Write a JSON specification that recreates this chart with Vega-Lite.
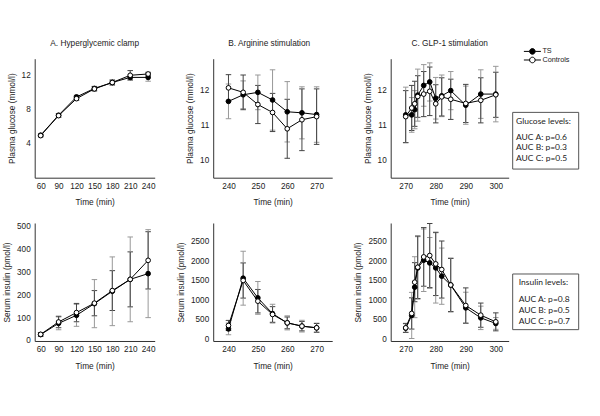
{
  "$schema": "https://vega.github.io/schema/vega-lite/v6.json",
  "padding": {"left": 1.7, "top": 38.7, "right": 5, "bottom": 5},
  "datasets": {
    "ag": [
      {"group": "TS", "time": 60, "mean": 5.0, "sd": 0.15},
      {"group": "TS", "time": 90, "mean": 7.35, "sd": 0.2},
      {"group": "TS", "time": 120, "mean": 9.5, "sd": 0.2},
      {"group": "TS", "time": 150, "mean": 10.5, "sd": 0.25},
      {"group": "TS", "time": 180, "mean": 11.2, "sd": 0.25},
      {"group": "TS", "time": 210, "mean": 11.8, "sd": 0.3},
      {"group": "TS", "time": 240, "mean": 11.8, "sd": 0.45},
      {"group": "Controls", "time": 60, "mean": 4.95, "sd": 0.15},
      {"group": "Controls", "time": 90, "mean": 7.3, "sd": 0.2},
      {"group": "Controls", "time": 120, "mean": 9.3, "sd": 0.2},
      {"group": "Controls", "time": 150, "mean": 10.45, "sd": 0.25},
      {"group": "Controls", "time": 180, "mean": 11.2, "sd": 0.3},
      {"group": "Controls", "time": 210, "mean": 12.05, "sd": 0.55},
      {"group": "Controls", "time": 240, "mean": 12.2, "sd": 0.2}
    ],
    "ai": [
      {"group": "TS", "time": 60, "mean": 28, "sd": 8},
      {"group": "TS", "time": 90, "mean": 77, "sd": 28},
      {"group": "TS", "time": 120, "mean": 112, "sd": 48},
      {"group": "TS", "time": 150, "mean": 163, "sd": 105},
      {"group": "TS", "time": 180, "mean": 217, "sd": 150},
      {"group": "TS", "time": 210, "mean": 269, "sd": 185},
      {"group": "TS", "time": 240, "mean": 294, "sd": 192},
      {"group": "Controls", "time": 60, "mean": 29, "sd": 8},
      {"group": "Controls", "time": 90, "mean": 83, "sd": 25},
      {"group": "Controls", "time": 120, "mean": 124, "sd": 40},
      {"group": "Controls", "time": 150, "mean": 165, "sd": 55},
      {"group": "Controls", "time": 180, "mean": 220, "sd": 87},
      {"group": "Controls", "time": 210, "mean": 269, "sd": 120},
      {"group": "Controls", "time": 240, "mean": 352, "sd": 125}
    ],
    "bg": [
      {"group": "TS", "time": 240, "mean": 11.69, "sd": 0.5},
      {"group": "TS", "time": 245, "mean": 11.88, "sd": 0.4},
      {"group": "TS", "time": 250, "mean": 11.95, "sd": 0.5},
      {"group": "TS", "time": 255, "mean": 11.73, "sd": 0.87},
      {"group": "TS", "time": 260, "mean": 11.39, "sd": 0.87},
      {"group": "TS", "time": 265, "mean": 11.36, "sd": 0.75},
      {"group": "TS", "time": 270, "mean": 11.31, "sd": 0.8},
      {"group": "Controls", "time": 240, "mean": 12.08, "sd": 0.38},
      {"group": "Controls", "time": 245, "mean": 11.95, "sd": 0.5},
      {"group": "Controls", "time": 250, "mean": 11.6, "sd": 0.55},
      {"group": "Controls", "time": 255, "mean": 11.37, "sd": 0.55},
      {"group": "Controls", "time": 260, "mean": 10.9, "sd": 0.85},
      {"group": "Controls", "time": 265, "mean": 11.16, "sd": 0.89},
      {"group": "Controls", "time": 270, "mean": 11.25, "sd": 0.8}
    ],
    "bi": [
      {"group": "TS", "time": 240, "mean": 270, "sd": 150},
      {"group": "TS", "time": 245, "mean": 1567, "sd": 690},
      {"group": "TS", "time": 250, "mean": 1063, "sd": 420},
      {"group": "TS", "time": 255, "mean": 660, "sd": 240},
      {"group": "TS", "time": 260, "mean": 424, "sd": 180},
      {"group": "TS", "time": 265, "mean": 340, "sd": 150},
      {"group": "TS", "time": 270, "mean": 297, "sd": 120},
      {"group": "Controls", "time": 240, "mean": 357, "sd": 130},
      {"group": "Controls", "time": 245, "mean": 1508, "sd": 450},
      {"group": "Controls", "time": 250, "mean": 979, "sd": 300},
      {"group": "Controls", "time": 255, "mean": 639, "sd": 200},
      {"group": "Controls", "time": 260, "mean": 424, "sd": 150},
      {"group": "Controls", "time": 265, "mean": 340, "sd": 120},
      {"group": "Controls", "time": 270, "mean": 297, "sd": 110}
    ],
    "cg": [
      {"group": "TS", "time": 270, "mean": 11.3, "sd": 0.8},
      {"group": "TS", "time": 272, "mean": 11.3, "sd": 0.5},
      {"group": "TS", "time": 273, "mean": 11.45, "sd": 0.55},
      {"group": "TS", "time": 274, "mean": 11.87, "sd": 0.75},
      {"group": "TS", "time": 276, "mean": 12.15, "sd": 0.6},
      {"group": "TS", "time": 278, "mean": 12.25, "sd": 0.55},
      {"group": "TS", "time": 280, "mean": 11.78, "sd": 0.6},
      {"group": "TS", "time": 282, "mean": 11.85, "sd": 0.6},
      {"group": "TS", "time": 285, "mean": 12.0, "sd": 0.55},
      {"group": "TS", "time": 290, "mean": 11.58, "sd": 0.55},
      {"group": "TS", "time": 295, "mean": 11.9, "sd": 0.7},
      {"group": "TS", "time": 300, "mean": 11.9, "sd": 0.8},
      {"group": "Controls", "time": 270, "mean": 11.25, "sd": 0.75},
      {"group": "Controls", "time": 272, "mean": 11.5, "sd": 0.65},
      {"group": "Controls", "time": 273, "mean": 11.62, "sd": 0.65},
      {"group": "Controls", "time": 274, "mean": 11.83, "sd": 0.6},
      {"group": "Controls", "time": 276, "mean": 11.9, "sd": 0.65},
      {"group": "Controls", "time": 278, "mean": 11.98, "sd": 0.7},
      {"group": "Controls", "time": 280, "mean": 11.62, "sd": 0.55},
      {"group": "Controls", "time": 282, "mean": 11.82, "sd": 0.55},
      {"group": "Controls", "time": 285, "mean": 11.75, "sd": 0.58},
      {"group": "Controls", "time": 290, "mean": 11.63, "sd": 0.55},
      {"group": "Controls", "time": 295, "mean": 11.72, "sd": 0.65},
      {"group": "Controls", "time": 300, "mean": 11.88, "sd": 0.65}
    ],
    "ci": [
      {"group": "TS", "time": 270, "mean": 290, "sd": 110},
      {"group": "TS", "time": 272, "mean": 614, "sd": 590},
      {"group": "TS", "time": 273, "mean": 1337, "sd": 780},
      {"group": "TS", "time": 274, "mean": 1830, "sd": 800},
      {"group": "TS", "time": 276, "mean": 2027, "sd": 800},
      {"group": "TS", "time": 278, "mean": 1958, "sd": 650},
      {"group": "TS", "time": 280, "mean": 1831, "sd": 900},
      {"group": "TS", "time": 282, "mean": 1619, "sd": 720},
      {"group": "TS", "time": 285, "mean": 1393, "sd": 690},
      {"group": "TS", "time": 290, "mean": 808, "sd": 400},
      {"group": "TS", "time": 295, "mean": 552, "sd": 300},
      {"group": "TS", "time": 300, "mean": 409, "sd": 150},
      {"group": "Controls", "time": 270, "mean": 296, "sd": 115},
      {"group": "Controls", "time": 272, "mean": 665, "sd": 400},
      {"group": "Controls", "time": 273, "mean": 1465, "sd": 500},
      {"group": "Controls", "time": 274, "mean": 1848, "sd": 800},
      {"group": "Controls", "time": 276, "mean": 2112, "sd": 750},
      {"group": "Controls", "time": 278, "mean": 2147, "sd": 820},
      {"group": "Controls", "time": 280, "mean": 1933, "sd": 810},
      {"group": "Controls", "time": 282, "mean": 1789, "sd": 730},
      {"group": "Controls", "time": 285, "mean": 1393, "sd": 680},
      {"group": "Controls", "time": 290, "mean": 869, "sd": 450},
      {"group": "Controls", "time": 295, "mean": 621, "sd": 310},
      {"group": "Controls", "time": 300, "mean": 450, "sd": 230}
    ],
    "leg": [
      {"group": "TS"},
      {"group": "Controls"}
    ],
    "gbox": [
      {"line": 0, "text": "Glucose levels:"},
      {"line": 1, "text": "AUC A: p=0.6"},
      {"line": 2, "text": "AUC B: p=0.3"},
      {"line": 3, "text": "AUC C: p=0.5"}
    ],
    "ibox": [
      {"line": 0, "text": "Insulin levels:"},
      {"line": 1, "text": "AUC A: p=0.8"},
      {"line": 2, "text": "AUC B: p=0.5"},
      {"line": 3, "text": "AUC C: p=0.7"}
    ]
  },
  "hconcat": [
    {
      "columns": 3,
      "spacing": {"row": 45.3, "column": 58.5},
      "bounds": "flush",
      "concat": [
        {
          "width": 120, "height": 119,
          "title": {"text": "A. Hyperglycemic clamp"},
          "data": {"name": "ag"},
          "encoding": {
            "x": {"field": "time", "type": "quantitative", "scale": {"domain": [50, 251], "nice": false, "zero": false}, "axis": {"values": [60, 90, 120, 150, 180, 210, 240], "title": "Time (min)"}},
            "y": {"field": "mean", "type": "quantitative", "scale": {"domain": [0, 14], "nice": false, "zero": false}, "axis": {"values": [4, 8, 12], "title": "Plasma glucose (mmol/l)"}}
          },
          "layer": [
            {"mark": {"type": "errorbar", "ticks": {"size": 5.5, "opacity": 1}, "thickness": 1}, "encoding": {"yError": {"field": "sd"}, "color": {"field": "group", "type": "nominal", "scale": {"domain": ["TS", "Controls"], "range": ["#999999", "#444444"]}, "legend": null}}},
            {"mark": {"type": "line", "color": "black", "strokeWidth": 1}, "encoding": {"detail": {"field": "group"}}},
            {"mark": {"type": "circle", "stroke": "black", "strokeWidth": 1, "size": 22, "opacity": 1}, "encoding": {"fill": {"field": "group", "type": "nominal", "scale": {"domain": ["TS", "Controls"], "range": ["black", "white"]}, "legend": null}}}
          ]
        },
        {
          "width": 119, "height": 119,
          "title": {"text": "B. Arginine stimulation", "dx": -3.5},
          "data": {"name": "bg"},
          "encoding": {
            "x": {"field": "time", "type": "quantitative", "scale": {"domain": [234.8, 275.3], "nice": false, "zero": false}, "axis": {"values": [240, 250, 260, 270], "title": "Time (min)"}},
            "y": {"field": "mean", "type": "quantitative", "scale": {"domain": [9.49, 12.92], "nice": false, "zero": false}, "axis": {"values": [10, 11, 12], "title": "Plasma glucose (mmol/l)"}}
          },
          "layer": [
            {"mark": {"type": "errorbar", "ticks": {"size": 5.5, "opacity": 1}, "thickness": 1}, "encoding": {"yError": {"field": "sd"}, "color": {"field": "group", "type": "nominal", "scale": {"domain": ["TS", "Controls"], "range": ["#999999", "#444444"]}, "legend": null}}},
            {"mark": {"type": "line", "color": "black", "strokeWidth": 1}, "encoding": {"detail": {"field": "group"}}},
            {"mark": {"type": "circle", "stroke": "black", "strokeWidth": 1, "size": 22, "opacity": 1}, "encoding": {"fill": {"field": "group", "type": "nominal", "scale": {"domain": ["TS", "Controls"], "range": ["black", "white"]}, "legend": null}}}
          ]
        },
        {
          "width": 118, "height": 119,
          "title": {"text": "C. GLP-1 stimulation"},
          "data": {"name": "cg"},
          "encoding": {
            "x": {"field": "time", "type": "quantitative", "scale": {"domain": [265, 304.3], "nice": false, "zero": false}, "axis": {"values": [270, 280, 290, 300], "title": "Time (min)"}},
            "y": {"field": "mean", "type": "quantitative", "scale": {"domain": [9.49, 12.92], "nice": false, "zero": false}, "axis": {"values": [10, 11, 12], "title": "Plasma glucose (mmol/l)"}}
          },
          "layer": [
            {"mark": {"type": "errorbar", "ticks": {"size": 5.5, "opacity": 1}, "thickness": 1}, "encoding": {"yError": {"field": "sd"}, "color": {"field": "group", "type": "nominal", "scale": {"domain": ["TS", "Controls"], "range": ["#999999", "#444444"]}, "legend": null}}},
            {"mark": {"type": "line", "color": "black", "strokeWidth": 1}, "encoding": {"detail": {"field": "group"}}},
            {"mark": {"type": "circle", "stroke": "black", "strokeWidth": 1, "size": 22, "opacity": 1}, "encoding": {"fill": {"field": "group", "type": "nominal", "scale": {"domain": ["TS", "Controls"], "range": ["black", "white"]}, "legend": null}}}
          ]
        },
        {
          "width": 120, "height": 118,
          "data": {"name": "ai"},
          "encoding": {
            "x": {"field": "time", "type": "quantitative", "scale": {"domain": [50, 251], "nice": false, "zero": false}, "axis": {"values": [60, 90, 120, 150, 180, 210, 240], "title": "Time (min)"}},
            "y": {"field": "mean", "type": "quantitative", "scale": {"domain": [0, 515], "nice": false, "zero": false}, "axis": {"values": [0, 100, 200, 300, 400, 500], "format": "d", "title": "Serum insulin (pmol/l)"}}
          },
          "layer": [
            {"mark": {"type": "errorbar", "ticks": {"size": 5.5, "opacity": 1}, "thickness": 1}, "encoding": {"yError": {"field": "sd"}, "color": {"field": "group", "type": "nominal", "scale": {"domain": ["TS", "Controls"], "range": ["#999999", "#444444"]}, "legend": null}}},
            {"mark": {"type": "line", "color": "black", "strokeWidth": 1}, "encoding": {"detail": {"field": "group"}}},
            {"mark": {"type": "circle", "stroke": "black", "strokeWidth": 1, "size": 22, "opacity": 1}, "encoding": {"fill": {"field": "group", "type": "nominal", "scale": {"domain": ["TS", "Controls"], "range": ["black", "white"]}, "legend": null}}}
          ]
        },
        {
          "width": 119, "height": 118,
          "data": {"name": "bi"},
          "encoding": {
            "x": {"field": "time", "type": "quantitative", "scale": {"domain": [234.8, 275.3], "nice": false, "zero": false}, "axis": {"values": [240, 250, 260, 270], "title": "Time (min)"}},
            "y": {"field": "mean", "type": "quantitative", "scale": {"domain": [-40, 2980], "nice": false, "zero": false}, "axis": {"values": [0, 500, 1000, 1500, 2000, 2500], "format": "d", "title": "Serum insulin (pmol/l)"}}
          },
          "layer": [
            {"mark": {"type": "errorbar", "ticks": {"size": 5.5, "opacity": 1}, "thickness": 1}, "encoding": {"yError": {"field": "sd"}, "color": {"field": "group", "type": "nominal", "scale": {"domain": ["TS", "Controls"], "range": ["#999999", "#444444"]}, "legend": null}}},
            {"mark": {"type": "line", "color": "black", "strokeWidth": 1}, "encoding": {"detail": {"field": "group"}}},
            {"mark": {"type": "circle", "stroke": "black", "strokeWidth": 1, "size": 22, "opacity": 1}, "encoding": {"fill": {"field": "group", "type": "nominal", "scale": {"domain": ["TS", "Controls"], "range": ["black", "white"]}, "legend": null}}}
          ]
        },
        {
          "width": 118, "height": 118,
          "data": {"name": "ci"},
          "encoding": {
            "x": {"field": "time", "type": "quantitative", "scale": {"domain": [265, 304.3], "nice": false, "zero": false}, "axis": {"values": [270, 280, 290, 300], "title": "Time (min)"}},
            "y": {"field": "mean", "type": "quantitative", "scale": {"domain": [-40, 2980], "nice": false, "zero": false}, "axis": {"values": [0, 500, 1000, 1500, 2000, 2500], "format": "d", "title": "Serum insulin (pmol/l)"}}
          },
          "layer": [
            {"mark": {"type": "errorbar", "ticks": {"size": 5.5, "opacity": 1}, "thickness": 1}, "encoding": {"yError": {"field": "sd"}, "color": {"field": "group", "type": "nominal", "scale": {"domain": ["TS", "Controls"], "range": ["#999999", "#444444"]}, "legend": null}}},
            {"mark": {"type": "line", "color": "black", "strokeWidth": 1}, "encoding": {"detail": {"field": "group"}}},
            {"mark": {"type": "circle", "stroke": "black", "strokeWidth": 1, "size": 22, "opacity": 1}, "encoding": {"fill": {"field": "group", "type": "nominal", "scale": {"domain": ["TS", "Controls"], "range": ["black", "white"]}, "legend": null}}}
          ]
        }
      ]
    },
    {
      "vconcat": [
        {
          "width": 66, "height": 119,
          "data": {"name": "gbox"},
          "layer": [
            {"data": {"values": [{"box": "glucose"}]}, "mark": {"type": "rect", "fill": "transparent", "stroke": "#555555", "strokeWidth": 1}, "encoding": {"x": {"datum": 0, "type": "quantitative", "scale": {"domain": [0, 1], "nice": false, "zero": false}, "axis": null}, "x2": {"datum": 1}, "y": {"datum": -1.28, "type": "quantitative", "scale": {"domain": [-6.32, 4.85], "reverse": true, "nice": false, "zero": false}, "axis": null}, "y2": {"datum": 4.04}}},
            {"transform": [{"filter": "datum.line == 0"}], "mark": {"type": "text", "align": "left", "baseline": "middle", "dx": 3.3, "dy": -4.65, "font": "Lato", "fontSize": 8.5, "color": "#222222"}, "encoding": {"x": {"datum": 0, "type": "quantitative"}, "y": {"field": "line", "type": "quantitative"}, "text": {"field": "text"}}},
            {"transform": [{"filter": "datum.line > 0"}], "mark": {"type": "text", "align": "left", "baseline": "middle", "dx": 3.3, "font": "Lato", "fontSize": 8.5, "color": "#222222"}, "encoding": {"x": {"datum": 0, "type": "quantitative"}, "y": {"field": "line", "type": "quantitative"}, "text": {"field": "text"}}},
            {"data": {"name": "leg"}, "transform": [{"filter": "datum.group == 'TS'"}], "mark": {"type": "point", "shape": "M-2.43,0L-0.8,0M0.8,0L2.43,0M0.8,0A0.8,0.8,0,1,1,-0.8,0A0.8,0.8,0,1,1,0.8,0Z", "size": 49, "filled": true, "fill": "black", "stroke": "black", "strokeWidth": 1, "opacity": 1}, "encoding": {"x": {"datum": 0.2985, "type": "quantitative"}, "y": {"datum": -7.005, "type": "quantitative"}}},
            {"data": {"name": "leg"}, "transform": [{"filter": "datum.group == 'Controls'"}], "mark": {"type": "point", "shape": "M-2.43,0L-0.8,0M0.8,0L2.43,0M0.8,0A0.8,0.8,0,1,1,-0.8,0A0.8,0.8,0,1,1,0.8,0Z", "size": 49, "filled": true, "fill": "white", "stroke": "black", "strokeWidth": 1, "opacity": 1}, "encoding": {"x": {"datum": 0.2985, "type": "quantitative"}, "y": {"datum": -6.198, "type": "quantitative"}}},
            {"data": {"name": "leg"}, "transform": [{"filter": "datum.group == 'TS'"}], "mark": {"type": "text", "align": "left", "baseline": "middle", "dx": 10, "font": "Liberation Sans", "fontSize": 7.3, "color": "#222222"}, "encoding": {"x": {"datum": 0.2985, "type": "quantitative"}, "y": {"datum": -7.005, "type": "quantitative"}, "text": {"field": "group"}}},
            {"data": {"name": "leg"}, "transform": [{"filter": "datum.group == 'Controls'"}], "mark": {"type": "text", "align": "left", "baseline": "middle", "dx": 10, "font": "Liberation Sans", "fontSize": 7.3, "color": "#222222"}, "encoding": {"x": {"datum": 0.2985, "type": "quantitative"}, "y": {"datum": -6.198, "type": "quantitative"}, "text": {"field": "group"}}}
          ]
        },
        {
          "width": 66, "height": 118,
          "data": {"name": "ibox"},
          "layer": [
            {"data": {"values": [{"box": "insulin"}]}, "mark": {"type": "rect", "fill": "transparent", "stroke": "#555555", "strokeWidth": 1}, "encoding": {"x": {"datum": 0, "type": "quantitative", "scale": {"domain": [0, 1], "nice": false, "zero": false}, "axis": null}, "x2": {"datum": 1}, "y": {"datum": -1.3, "type": "quantitative", "scale": {"domain": [-6.0, 4.875], "reverse": true, "nice": false, "zero": false}, "axis": null}, "y2": {"datum": 3.83}}},
            {"transform": [{"filter": "datum.line == 0"}], "mark": {"type": "text", "align": "left", "baseline": "middle", "dx": 6, "dy": -5.7, "font": "Lato", "fontSize": 8.5, "color": "#222222"}, "encoding": {"x": {"datum": 0, "type": "quantitative"}, "y": {"field": "line", "type": "quantitative"}, "text": {"field": "text"}}},
            {"transform": [{"filter": "datum.line > 0"}], "mark": {"type": "text", "align": "left", "baseline": "middle", "dx": 6, "font": "Lato", "fontSize": 8.5, "color": "#222222"}, "encoding": {"x": {"datum": 0, "type": "quantitative"}, "y": {"field": "line", "type": "quantitative"}, "text": {"field": "text"}}}
          ]
        }
      ],
      "spacing": 45.3,
      "bounds": "flush"
    }
  ],
  "spacing": 3,
  "bounds": "full",
  "config": {
    "view": {"stroke": null},
    "font": "Liberation Sans",
    "axis": {"domainColor": "#333333", "domainWidth": 1, "ticks": false, "tickSize": 0, "grid": false, "labelOverlap": false, "labelFont": "Liberation Sans", "labelFontSize": 8.2, "labelColor": "#222222", "titleFont": "Liberation Sans", "titleFontSize": 8.3, "titleFontWeight": "normal", "titleColor": "#222222"},
    "axisX": {"labelPadding": 5, "titlePadding": 8, "labelAngle": 0},
    "axisY": {"labelPadding": 4.5, "titlePadding": 5},
    "title": {"font": "Liberation Sans", "fontSize": 8.3, "fontWeight": "normal", "color": "#222222", "offset": 11, "frame": "group", "anchor": "middle"}
  }
}
